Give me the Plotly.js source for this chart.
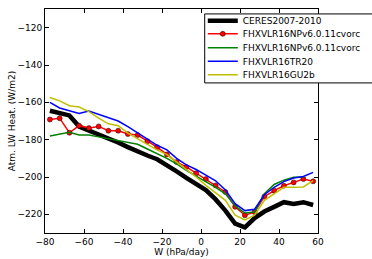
<!DOCTYPE html>
<html>
<head>
<meta charset="utf-8">
<script src="https://cdn.plot.ly/plotly-3.0.1.min.js"></script>
<style>html,body{margin:0;padding:0;background:#fff;}#chart{width:372px;height:259px;}</style>
</head>
<body>
<div id="chart"></div>
<script>
var omega = [-77.5,-72.5,-67.5,-62.5,-57.5,-52.5,-47.5,-42.5,-37.5,-32.5,-27.5,-22.5,-17.5,-12.5,-7.5,-2.5,2.5,7.5,12.5,17.5,22.5,27.5,32.5,37.5,42.5,47.5,52.5,57.5];
var seriesNames = ["CERES2007-2010","FHXVLR16NPv6.0.11cvorc","FHXVLR16NPv6.0.11cvorc","FHXVLR16TR20","FHXVLR16GU2b"];
var ceres = [-164.5,-165.8,-167,-173,-175,-177,-179,-181.5,-184,-186.5,-188.5,-190.5,-193.5,-197,-200.5,-203.5,-207,-212,-218,-225,-227,-222,-218.5,-216,-213.5,-214.5,-213.5,-215];
var npRed = [-169.2,-168.5,-176.3,-172.5,-173.8,-172.9,-175.2,-175.2,-177,-177.5,-180.8,-184,-187.9,-192,-194.6,-198,-201.1,-204.5,-208,-216,-220.5,-218.8,-210.5,-207.3,-204.7,-202.9,-201.1,-202.3];
var npGreen = [-178,-177,-176,-177.5,-177.5,-178.5,-179.5,-180.3,-181.5,-182.5,-185,-187.5,-190,-193,-196.5,-199.5,-202.5,-205.5,-209,-215.5,-219.3,-218.8,-209,-204,-201.7,-200.2,-200];
var tr20 = [-160,-163,-164.5,-166,-164.7,-166.5,-168.3,-170,-173,-176.3,-179.5,-183,-185.5,-190,-193.5,-196,-199,-202,-207,-214.3,-218,-217.3,-209.5,-205.5,-202.5,-200.5,-199.7,-197.5];
var gu2b = [-157.4,-159.2,-161.8,-162.5,-165,-168.5,-171.5,-172.5,-176.5,-179.3,-182.5,-185.5,-188,-192,-196,-200,-204.5,-208.5,-212.5,-220.5,-223,-220.5,-212.5,-209,-205.5,-205.5,-205.3,-202];
var xTicks = [-80,-60,-40,-20,0,20,40,60];
var yTicks = [-220,-200,-180,-160,-140,-120];

var FONT = "DejaVu Sans, Bitstream Vera Sans, sans-serif";
var traces = [
  {x: omega, y: ceres, name: seriesNames[0], mode: "lines", line: {color: "#000000", width: 4.5}, legend: "legend"},
  {x: omega, y: npRed, name: seriesNames[1], mode: "lines+markers", line: {color: "#ff0000", width: 1.5},
   marker: {color: "#ff0000", size: 5, line: {color: "#000000", width: 0.5}}, legend: "legend2"},
  {x: omega.slice(0, npGreen.length), y: npGreen, name: seriesNames[2], mode: "lines", line: {color: "#008000", width: 1.5}, legend: "legend3"},
  {x: omega, y: tr20, name: seriesNames[3], mode: "lines", line: {color: "#0000ff", width: 1.5}, legend: "legend4"},
  {x: omega, y: gu2b, name: seriesNames[4], mode: "lines", line: {color: "#bfbf00", width: 1.5}, legend: "legend5"}
];

function leg(y) {
  return {x: 0.578, xanchor: "left", y: y, yanchor: "middle", bgcolor: "rgba(0,0,0,0)", borderwidth: 0,
          font: {family: FONT, size: 9, color: "#000"}, itemwidth: 30};
}
var axisCommon = {showline: true, linecolor: "#000", linewidth: 1, mirror: "ticks", ticks: "inside",
  ticklen: 4, tickwidth: 1, tickcolor: "#000", showgrid: false, zeroline: false,
  tickfont: {family: FONT, size: 9, color: "#000"}};

var layout = {
  width: 372, height: 259,
  margin: {l: 45, r: 33, t: 6, b: 26},
  paper_bgcolor: "#fff", plot_bgcolor: "#fff",
  showlegend: true,
  legend: leg(0.948), legend2: leg(0.889), legend3: leg(0.827), legend4: leg(0.767), legend5: leg(0.706),
  xaxis: Object.assign({}, axisCommon, {range: [-80, 60], tickvals: xTicks,
    title: {text: "W (hPa/day)", font: {family: FONT, size: 9, color: "#000"}, standoff: 1}}),
  yaxis: Object.assign({}, axisCommon, {range: [-230, -110], tickvals: yTicks,
    title: {text: "Atm. LW Heat. (W/m2)", font: {family: FONT, size: 9, color: "#000"}, standoff: 0}}),
  shapes: [{type: "rect", xref: "paper", yref: "paper", x0: 0.585, x1: 1.3, y0: 0.670, y1: 0.978,
    line: {color: "#000", width: 1}, fillcolor: "#fff", layer: "above"}]
};
Plotly.newPlot("chart", traces, layout, {displayModeBar: false, staticPlot: true});
</script>
</body>
</html>
